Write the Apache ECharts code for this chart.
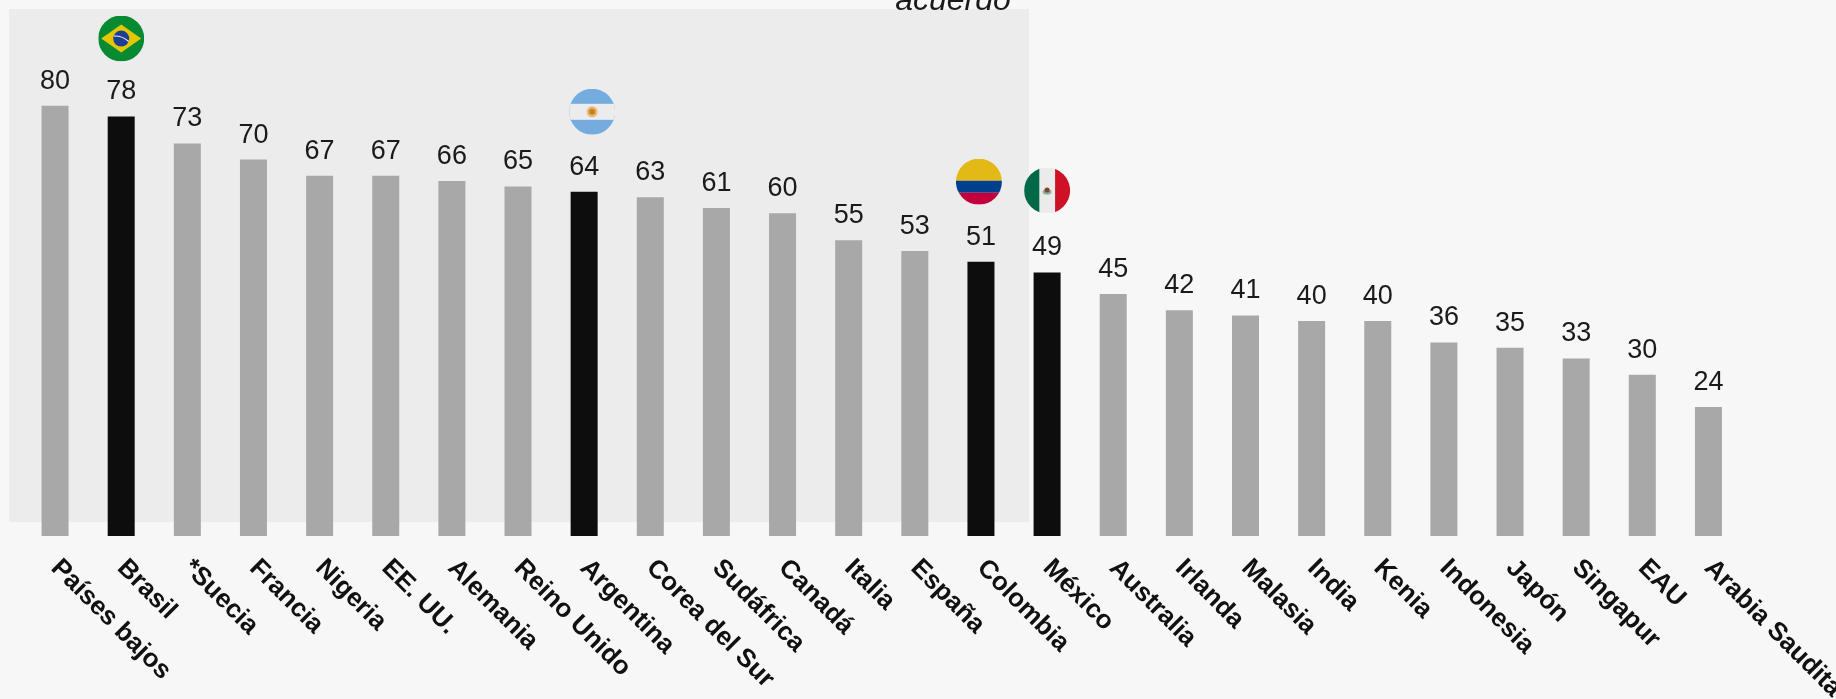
<!DOCTYPE html>
<html lang="es">
<head>
<meta charset="utf-8">
<title>Porcentaje de acuerdo por país</title>
<script src="https://cdn.jsdelivr.net/npm/echarts@6/dist/echarts.min.js"></script>
<style>
  html, body { margin: 0; padding: 0; background: #f7f7f7; overflow: hidden; }
  #chart { width: 1836px; height: 699px; }
</style>
</head>
<body>
<div id="chart"></div>
<script>
// Countries in ranked order and their share of agreement
const countries = ['Países bajos', 'Brasil', '*Suecia', 'Francia', 'Nigeria', 'EE. UU.', 'Alemania',
  'Reino Unido', 'Argentina', 'Corea del Sur', 'Sudáfrica', 'Canadá', 'Italia', 'España', 'Colombia',
  'México', 'Australia', 'Irlanda', 'Malasia', 'India', 'Kenia', 'Indonesia', 'Japón', 'Singapur',
  'EAU', 'Arabia Saudita'];
const values = [80, 78, 73, 70, 67, 67, 66, 65, 64, 63, 61, 60, 55, 53, 51, 49, 45, 42, 41, 40, 40, 36, 35, 33, 30, 24];
const highlighted = ['Brasil', 'Argentina', 'Colombia', 'México'];

// Round flag badges shown above the highlighted countries
const svg = body => 'image://data:image/svg+xml;charset=utf-8,' + encodeURIComponent(
  '<svg xmlns="http://www.w3.org/2000/svg" width="92" height="92" viewBox="0 0 46 46">' +
  '<defs><clipPath id="c"><circle cx="23" cy="23" r="23"/></clipPath></defs>' +
  '<g clip-path="url(#c)">' + body + '</g></svg>');

const flags = {
  'Brasil': svg(
    '<rect width="46" height="46" fill="#078a32"/>' +
    '<path d="M3 23 L23 9 L43 23 L23 37 Z" fill="#e3c700"/>' +
    '<circle cx="23" cy="23" r="8" fill="#1c3f94"/>' +
    '<path d="M15.5 20.5 Q24 20 30.5 26" stroke="#eee" stroke-width="1.2" fill="none"/>'),
  'Argentina': svg(
    '<rect width="46" height="46" fill="#74acdf"/>' +
    '<rect y="15" width="46" height="16" fill="#ececec"/>' +
    '<circle cx="23" cy="23" r="5.5" fill="#e8b877"/>' +
    '<circle cx="23" cy="23" r="3" fill="#c8801e"/>'),
  'Colombia': svg(
    '<rect width="46" height="22" fill="#e2b915"/>' +
    '<rect y="22" width="46" height="12" fill="#003f8e"/>' +
    '<rect y="34" width="46" height="12" fill="#c4003c"/>'),
  'México': svg(
    '<rect width="15.5" height="46" fill="#006847"/>' +
    '<rect x="15.5" width="15.5" height="46" fill="#ebebeb"/>' +
    '<rect x="31" width="15" height="46" fill="#ce1126"/>' +
    '<ellipse cx="23" cy="24.5" rx="4.5" ry="2.8" fill="#8fb59f"/>' +
    '<circle cx="23" cy="22.5" r="2.6" fill="#7a4a2a"/>')
};

// Where each badge sits relative to the top of its bar
const flagOffsets = {
  'Brasil': [0, -78],
  'Argentina': [8, -80],
  'Colombia': [-2, -80],
  'México': [0, -82]
};

const chart = echarts.init(document.getElementById('chart'), null, { renderer: 'canvas' });

chart.setOption({
  animation: false,
  backgroundColor: '#f7f7f7',
  textStyle: { fontFamily: '"Liberation Sans", Arial, sans-serif' },
  graphic: {
    elements: [
      { type: 'rect', z: -1, silent: true,
        shape: { x: 9, y: 9, width: 1020, height: 513 },
        style: { fill: '#ececec' } },
      { type: 'text', z: 1, silent: true, x: 953, y: 17,
        style: { text: 'acuerdo', fill: '#1a1a1a', align: 'center', verticalAlign: 'bottom',
          font: 'italic 32px "Liberation Sans", Arial, sans-serif' } }
    ]
  },
  grid: { left: 22, width: 1719.5, top: 52, height: 484, outerBoundsMode: 'none' },
  xAxis: {
    type: 'category',
    data: countries,
    axisLine: { show: false },
    axisTick: { show: false },
    axisLabel: {
      interval: 0,
      rotate: -45,
      margin: 28,
      color: '#111111',
      fontSize: 26,
      fontWeight: 'bold',
      fontFamily: '"Liberation Sans", Arial, sans-serif'
    }
  },
  yAxis: { type: 'value', min: 0, max: 90, show: false },
  series: [
    {
      type: 'bar',
      barWidth: 27,
      data: values.map((v, i) => ({
        value: v,
        itemStyle: { color: highlighted.includes(countries[i]) ? '#0d0d0d' : '#a8a8a8' }
      })),
      label: {
        show: true,
        position: 'top',
        distance: 11,
        color: '#1a1a1a',
        fontSize: 27,
        fontFamily: '"Liberation Sans", Arial, sans-serif'
      }
    },
    {
      type: 'scatter',
      clip: false,
      silent: true,
      z: 3,
      symbolSize: 46,
      itemStyle: { opacity: 1 },
      data: highlighted.map(name => ({
        value: [name, values[countries.indexOf(name)]],
        symbol: flags[name],
        symbolOffset: flagOffsets[name]
      }))
    }
  ]
});
</script>
</body>
</html>
